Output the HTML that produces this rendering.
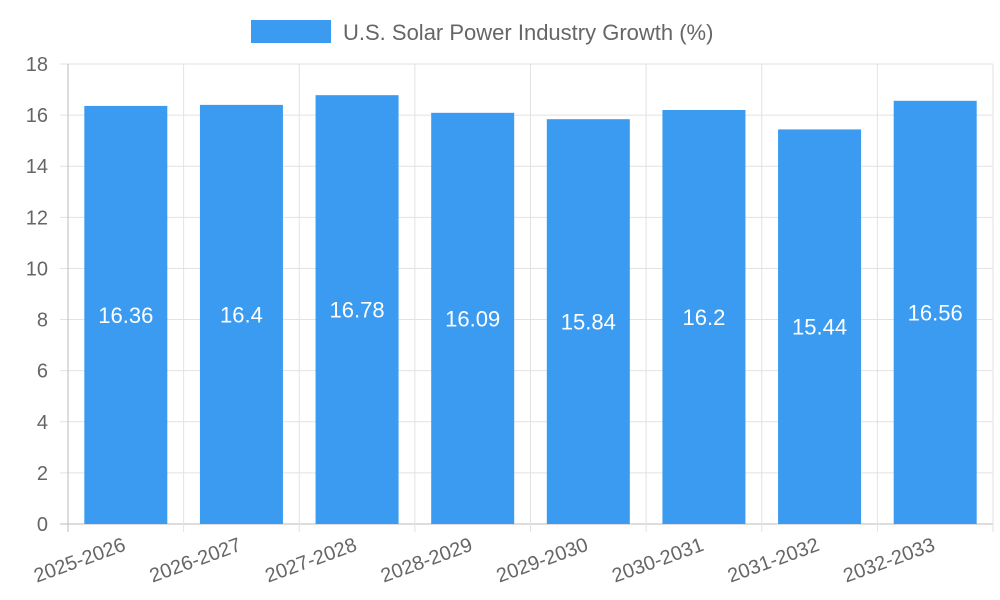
<!DOCTYPE html>
<html><head><meta charset="utf-8"><style>
html,body{margin:0;padding:0;background:#fff;width:1000px;height:600px;overflow:hidden}
svg text{font-family:"Liberation Sans",sans-serif}
</style></head><body>
<svg id="chart" width="1000" height="600" xmlns="http://www.w3.org/2000/svg">
<g>
<rect x="251" y="20" width="80" height="23" fill="#3a9bf0"/>
<text x="343" y="40" font-size="22" fill="#666">U.S. Solar Power Industry Growth (%)</text>
</g>
<g id="grid"></g>
<g id="bars"></g>
<g id="axes"></g>
</svg>
<script>
const categories = ["2025-2026","2026-2027","2027-2028","2028-2029","2029-2030","2030-2031","2031-2032","2032-2033"];
const values = [16.36,16.4,16.78,16.09,15.84,16.2,15.44,16.56];
const yTicks = [0,2,4,6,8,10,12,14,16,18];
const NS="http://www.w3.org/2000/svg";
const X0=68,X1=993,Y0=524,Y1=64,YMAX=18;
const bw=(X1-X0)/categories.length;
const y=v=>Y0-(v/YMAX)*(Y0-Y1);
const x=i=>X0+i*bw;
function mk(tag,attrs,parent){const e=document.createElementNS(NS,tag);for(const k in attrs)e.setAttribute(k,attrs[k]);parent.appendChild(e);return e;}
const grid=document.getElementById('grid'),bars=document.getElementById('bars'),axes=document.getElementById('axes');
yTicks.forEach(t=>{
  const l=mk('line',{x1:X0-8,x2:X1,y1:y(t),y2:y(t),stroke:t===0?'#bbb':'#e2e2e2','stroke-width':1},grid);
  
  
  const tx=mk('text',{x:48,y:y(t)+7,'text-anchor':'end','font-size':20,fill:'#666'},axes);
  tx.textContent=t;
  
  
});
for(let i=0;i<=categories.length;i++){
  const l=mk('line',{x1:x(i),x2:x(i),y1:Y1,y2:Y0+8,stroke:i===0?'#bbb':'#e2e2e2','stroke-width':1},grid);
  
  
}
categories.forEach((c,i)=>{
  const cx=x(i)+bw/2,w=83;
  const r=mk('rect',{x:cx-w/2,y:y(values[i]),width:w,height:Y0-y(values[i]),fill:'#3a9bf0'},bars);
  
  
  const vt=mk('text',{x:cx,y:(y(values[i])+Y0)/2+8,'text-anchor':'middle','font-size':22,fill:'#fff'},bars);
  vt.textContent=values[i];
  
  
  const lt=mk('text',{x:cx+1,y:Y0+26,'text-anchor':'end','font-size':20,fill:'#666',transform:`rotate(-20 ${cx+1} ${Y0+26})`},axes);
  lt.textContent=c;
  
  
});
</script>
</body></html>
